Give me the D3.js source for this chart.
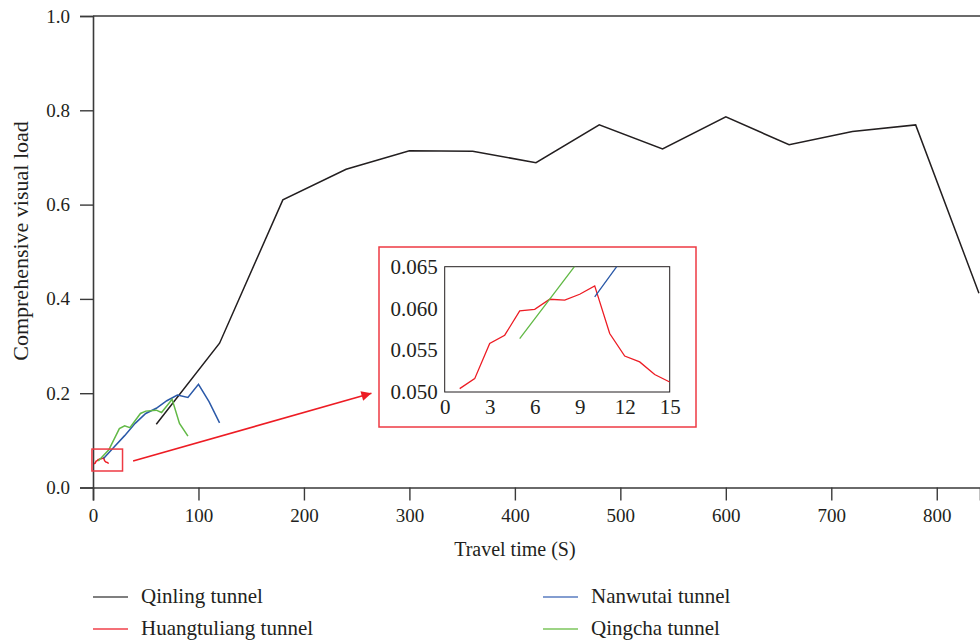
<!DOCTYPE html>
<html>
  <head>
    <title>Comprehensive visual load</title>
    <script src="https://d3js.org/d3.v7.min.js"></script>
    <style>
      body { margin: 0; background: #fff; }
      text { font-family: "Liberation Serif", "DejaVu Serif", serif; fill: #231f20; }
      .tick text { font-size: 19px; }
      .inset .tick text { font-size: 21px; }
      .axis-label { font-size: 20px; }
      .legend text { font-size: 21px; }
    </style>
  </head>
  <body>
    <div id="chart"></div>
    <script>
      // series values: [travel time (s), comprehensive visual load]
      const qinling = [
        [60, 0.134], [120, 0.306], [180, 0.610], [240, 0.675], [300, 0.714],
        [360, 0.713], [420, 0.689], [480, 0.769], [540, 0.718], [600, 0.786],
        [660, 0.727], [720, 0.755], [780, 0.769], [840, 0.412]
      ];
      const huangtuliang = [
        [1, 0.0504], [2, 0.0516], [3, 0.0558], [4, 0.0568], [5, 0.0597],
        [6, 0.0599], [7, 0.0611], [8, 0.0610], [9, 0.0617], [10, 0.0627],
        [11, 0.0570], [12, 0.0543], [13, 0.0536], [14, 0.0521], [15, 0.0512]
      ];
      const nanwutai = [
        [10, 0.0614], [20, 0.086], [30, 0.110], [40, 0.136], [50, 0.157],
        [60, 0.168], [70, 0.184], [80, 0.196], [90, 0.191], [100, 0.219],
        [110, 0.182], [120, 0.137]
      ];
      const qingcha = [
        [5, 0.0564], [15, 0.080], [25, 0.125], [30, 0.131], [35, 0.127],
        [45, 0.157], [50, 0.162], [60, 0.164], [65, 0.159], [75, 0.187],
        [82, 0.136], [90, 0.109]
      ];

      const seriesNames = ["Qinling tunnel", "Huangtuliang tunnel", "Nanwutai tunnel", "Qingcha tunnel"];
      const seriesColors = ["#231f20", "#ed1c24", "#2b59a8", "#62b946"];
      const legendColors = ["#555555", "#f0404a", "#5a7dc0", "#7cc65c"];
      const allSeries = [qinling, huangtuliang, nanwutai, qingcha];

      const xTicks = [0, 100, 200, 300, 400, 500, 600, 700, 800];
      const yTicks = [0, 0.2, 0.4, 0.6, 0.8, 1.0];
      const insetXTicks = [0, 3, 6, 9, 12, 15];
      const insetYTicks = [0.050, 0.055, 0.060, 0.065];

      const W = 980, H = 642;
      const margin = { top: 16, right: 0, bottom: 154.5, left: 93 };
      const width = W - margin.left - margin.right;
      const height = H - margin.top - margin.bottom;

      const svg = d3.select("#chart").append("svg")
        .attr("width", W).attr("height", H);

      const x = d3.scaleLinear().domain([0, 841]).range([0, width]);
      const y = d3.scaleLinear().domain([0, 1]).range([height, 0]);

      const g = svg.append("g")
        .attr("transform", `translate(${margin.left}, ${margin.top})`);

      svg.append("defs").append("clipPath").attr("id", "clip-main")
        .append("rect").attr("x", 0).attr("y", -2).attr("width", width).attr("height", height + 4);

      // axes
      const xAxis = g.append("g")
        .attr("transform", `translate(0, ${height})`)
        .call(d3.axisBottom(x).tickValues(xTicks).tickSize(13).tickPadding(8).tickFormat(d3.format("d")));
      const yAxis = g.append("g")
        .call(d3.axisLeft(y).tickValues(yTicks).tickSize(13).tickPadding(10).tickFormat(d3.format(".1f")));
      [xAxis, yAxis].forEach(a => {
        a.select(".domain").attr("stroke", "#3a3a3a").attr("stroke-width", 1.6);
        a.selectAll(".tick line").attr("stroke", "#3a3a3a").attr("stroke-width", 1.4);
        a.selectAll(".tick text").attr("fill", "#231f20");
      });
      // top border
      g.append("line")
        .attr("x1", 0).attr("x2", width).attr("y1", 0).attr("y2", 0)
        .attr("stroke", "#3a3a3a").attr("stroke-width", 1.6);

      const line = d3.line().x(d => x(d[0])).y(d => y(d[1]));

      const lines = g.append("g").attr("clip-path", "url(#clip-main)");
      allSeries.forEach((s, i) => {
        lines.append("path").datum(s)
          .attr("d", line)
          .attr("fill", "none")
          .attr("stroke", seriesColors[i])
          .attr("stroke-width", 1.5);
      });

      // zoom box on main chart
      g.append("rect")
        .attr("x", x(-1)).attr("y", y(0.0815))
        .attr("width", x(28) - x(-1)).attr("height", y(0.035) - y(0.0815))
        .attr("fill", "none").attr("stroke", "#ee3a43").attr("stroke-width", 1.5);

      // arrow
      svg.append("defs").append("marker")
        .attr("id", "arrow").attr("viewBox", "0 0 10 10")
        .attr("refX", 10).attr("refY", 5)
        .attr("markerWidth", 14).attr("markerHeight", 10)
        .attr("markerUnits", "userSpaceOnUse")
        .attr("orient", "auto")
        .append("path").attr("d", "M0,0 L10,5 L0,10 Z").attr("fill", "#ed1c24");
      g.append("line")
        .attr("x1", x(38)).attr("y1", y(0.056))
        .attr("x2", x(264)).attr("y2", y(0.2))
        .attr("stroke", "#ed1c24").attr("stroke-width", 1.6)
        .attr("marker-end", "url(#arrow)");

      // inset
      const inset = { x0: 379, y0: 247, x1: 696, y1: 427, left: 444.7, right: 669.7, top: 266.7, bottom: 392 };
      svg.append("rect")
        .attr("x", inset.x0).attr("y", inset.y0)
        .attr("width", inset.x1 - inset.x0).attr("height", inset.y1 - inset.y0)
        .attr("fill", "#fff").attr("stroke", "#ee3a43").attr("stroke-width", 1.5);

      const xi = d3.scaleLinear().domain([0, 15]).range([inset.left, inset.right]);
      const yi = d3.scaleLinear().domain([0.050, 0.065]).range([inset.bottom, inset.top]);

      svg.append("defs").append("clipPath").attr("id", "clip-inset")
        .append("rect").attr("x", inset.left).attr("y", inset.top)
        .attr("width", inset.right - inset.left).attr("height", inset.bottom - inset.top);

      const ig = svg.append("g").attr("class", "inset");
      const ixAxis = ig.append("g")
        .attr("transform", `translate(0, ${inset.bottom})`)
        .call(d3.axisBottom(xi).tickValues(insetXTicks).tickSize(0).tickPadding(7).tickFormat(d3.format("d")));
      const iyAxis = ig.append("g")
        .attr("transform", `translate(${inset.left}, 0)`)
        .call(d3.axisLeft(yi).tickValues(insetYTicks).tickSize(0).tickPadding(7).tickFormat(d3.format(".3f")));
      [ixAxis, iyAxis].forEach(a => a.select(".domain").remove());
      ig.append("rect")
        .attr("x", inset.left).attr("y", inset.top)
        .attr("width", inset.right - inset.left).attr("height", inset.bottom - inset.top)
        .attr("fill", "none").attr("stroke", "#231f20").attr("stroke-width", 1);

      const iline = d3.line().x(d => xi(d[0])).y(d => yi(d[1]));
      const ilines = ig.append("g").attr("clip-path", "url(#clip-inset)");
      allSeries.forEach((s, i) => {
        ilines.append("path").datum(s)
          .attr("d", iline)
          .attr("fill", "none")
          .attr("stroke", seriesColors[i])
          .attr("stroke-width", 1.3);
      });

      // axis titles
      svg.append("text").attr("class", "axis-label")
        .attr("x", margin.left + x(400)).attr("y", 556)
        .attr("text-anchor", "middle")
        .text("Travel time (S)");
      svg.append("text").attr("class", "axis-label")
        .style("font-size", "22px")
        .attr("transform", "translate(28, 241) rotate(-90)")
        .attr("text-anchor", "middle")
        .text("Comprehensive visual load");

      // legend
      const legendPos = [[93, 597], [93, 629], [543, 597], [543, 629]];
      const legend = svg.append("g").attr("class", "legend");
      seriesNames.forEach((name, i) => {
        const [lx, ly] = legendPos[i];
        legend.append("line")
          .attr("x1", lx).attr("x2", lx + 35).attr("y1", ly).attr("y2", ly)
          .attr("stroke", legendColors[i]).attr("stroke-width", 1.5);
        legend.append("text")
          .attr("x", lx + 48).attr("y", ly + 6)
          .text(name);
      });
    </script>
  </body>
</html>
